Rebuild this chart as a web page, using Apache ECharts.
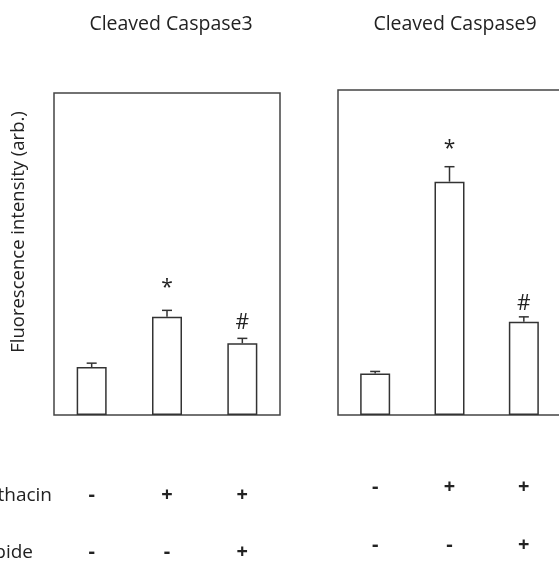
<!DOCTYPE html>
<html>
<head>
<meta charset="utf-8">
<script src="https://cdn.jsdelivr.net/npm/echarts@6/dist/echarts.min.js"></script>
<style>
  html, body { margin: 0; padding: 0; background: #fff; }
  #main { width: 559px; height: 563px; }
</style>
</head>
<body>
<div id="main"></div>
<script>
// treatment rows under the bars
const indomethacin = ['-', '+', '+'];
const rebamipide = ['-', '-', '+'];
const rowNames = ['Indomethacin', 'Rebamipide'];
const panelTitles = ['Cleaved Caspase3', 'Cleaved Caspase9'];

// bar heights (arbitrary units, axis 0-100) and upward error
const casp3Mean = [14.9, 30.5, 22.3];
const casp3Err = [1.2, 2.0, 1.5];
const casp3Mark = ['', '*', '#'];
const casp9Mean = [12.8, 71.8, 28.7];
const casp9Err = [0.6, 4.6, 1.5];
const casp9Mark = ['', '*', '#'];

const FONT = '"Open Sans", "DejaVu Sans", sans-serif';
const INK = '#222';
const LINE = '#444';

function errorRender(marks, markGap) {
  return function (params, api) {
    const i = api.value(0);
    const base = api.coord([i, api.value(1)]);
    const top = api.coord([i, api.value(1) + api.value(2)]);
    const cap = 5;
    const children = [
      { type: 'line', shape: { x1: base[0], y1: base[1], x2: top[0], y2: top[1] }, style: { stroke: '#333', lineWidth: 1.5 } },
      { type: 'line', shape: { x1: top[0] - cap, y1: top[1], x2: top[0] + cap, y2: top[1] }, style: { stroke: '#333', lineWidth: 1.5 } }
    ];
    const m = marks[params.dataIndex];
    if (m) {
      children.push({
        type: 'text',
        style: {
          text: m, x: top[0], y: top[1] - markGap[m],
          align: 'center', verticalAlign: 'middle',
          fontSize: 21, fontFamily: FONT, fill: INK
        }
      });
    }
    return { type: 'group', children: children };
  };
}

function panelSeries(idx, mean, err, marks, markGap) {
  return [
    {
      type: 'bar', xAxisIndex: idx, yAxisIndex: idx,
      data: mean, barWidth: 30, silent: true,
      itemStyle: { color: '#fff', borderColor: '#333', borderWidth: 1.5 }
    },
    {
      type: 'custom', xAxisIndex: idx, yAxisIndex: idx, silent: true,
      data: mean.map((v, i) => [i, v, err[i]]),
      renderItem: errorRender(marks, markGap), z: 3
    }
  ];
}

function xAxis(idx, margin, lh) {
  return {
    type: 'category', gridIndex: idx, data: indomethacin,
    axisLine: { show: false }, axisTick: { show: false },
    axisLabel: {
      margin: margin, lineHeight: lh, fontSize: 20, fontWeight: 'bold', fontFamily: FONT, color: INK,
      formatter: (v, i) => indomethacin[i] + '\n' + rebamipide[i]
    }
  };
}

function yAxis(idx) {
  return {
    type: 'value', gridIndex: idx, min: 0, max: 100,
    axisLine: { show: false }, axisTick: { show: false },
    axisLabel: { show: false }, splitLine: { show: false }
  };
}

const chart = echarts.init(document.getElementById('main'));
chart.setOption({
  animation: false,
  backgroundColor: '#fff',
  title: [
    { text: panelTitles[0], left: 166, top: 9, textAlign: 'center',
      textStyle: { fontSize: 19.5, fontWeight: 'normal', fontFamily: FONT, color: INK } },
    { text: panelTitles[1], left: 450, top: 9, textAlign: 'center',
      textStyle: { fontSize: 19.5, fontWeight: 'normal', fontFamily: FONT, color: INK } }
  ],
  grid: [
    { left: 54, top: 93, width: 226, height: 322, outerBoundsMode: 'none', containLabel: false,
      show: true, borderColor: LINE, borderWidth: 1.5, backgroundColor: 'transparent' },
    { left: 338, top: 90, width: 223, height: 325, outerBoundsMode: 'none', containLabel: false,
      show: true, borderColor: LINE, borderWidth: 1.5, backgroundColor: 'transparent' }
  ],
  xAxis: [xAxis(0, 52, 57), xAxis(1, 43, 58)],
  yAxis: [yAxis(0), yAxis(1)],
  graphic: [
    { type: 'text', x: 19, y: 232, rotation: Math.PI / 2,
      style: { text: 'Fluorescence intensity (arb.)', align: 'center', verticalAlign: 'middle',
        fontSize: 18.5, fontFamily: FONT, fill: INK } },
    { type: 'text', x: 52, y: 496,
      style: { text: rowNames[0], align: 'right', verticalAlign: 'middle', fontSize: 19, fontFamily: FONT, fill: INK } },
    { type: 'text', x: 33, y: 553,
      style: { text: rowNames[1], align: 'right', verticalAlign: 'middle', fontSize: 19, fontFamily: FONT, fill: INK } }
  ],
  series: [].concat(
    panelSeries(0, casp3Mean, casp3Err, casp3Mark, { '*': 22, '#': 15 }),
    panelSeries(1, casp9Mean, casp9Err, casp9Mark, { '*': 18, '#': 13 })
  )
});
</script>
</body>
</html>
